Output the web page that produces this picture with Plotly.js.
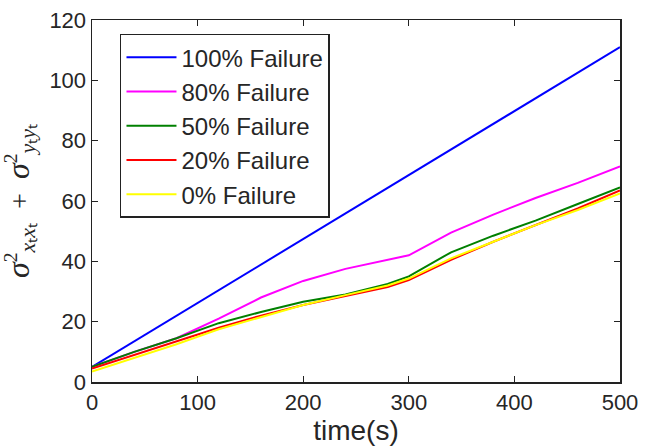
<!DOCTYPE html>
<html>
<head>
<meta charset="utf-8">
<script src="https://cdn.plot.ly/plotly-3.0.1.min.js"></script>
<style>html,body{margin:0;padding:0;background:#fff;}#chart{width:651px;height:447px;}</style>
</head>
<body>
<div id="chart"></div>
<script>
const time = [0, 40, 80, 120, 160, 200, 240, 280, 300, 340, 380, 420, 460, 500];
const fail100 = [5, 13.5, 22, 30.4, 38.9, 47.4, 55.9, 64.4, 68.6, 77.1, 85.6, 94.0, 102.5, 111];
const fail80 = [5, 10, 14.5, 21, 28, 33.5, 37.5, 40.5, 42, 49.5, 55.5, 61, 66, 71.5];
const fail50 = [5, 10, 14.5, 19.5, 23.2, 26.6, 29, 32.5, 35, 43, 48.5, 53.5, 59, 64.5];
const fail20 = [4.5, 9, 13.5, 18, 22, 25.5, 28.5, 31.5, 33.8, 40.5, 46.5, 52, 57.5, 63.5];
const fail0 = [3.5, 8, 12.5, 17.5, 21.5, 25.5, 28.8, 32, 34.3, 41, 46.5, 52, 57, 62.5];
const names = ['100% Failure', '80% Failure', '50% Failure', '20% Failure', '0% Failure'];
const colors = ['#0000ff', '#ff00ff', '#008000', '#ff0000', '#ffff00'];
const series = [fail100, fail80, fail50, fail20, fail0];

const traces = series.map((s, i) => ({
  x: time, y: s, type: 'scatter', mode: 'lines', name: names[i],
  line: {color: colors[i], width: 2}
}));

const sans = 'Liberation Sans, Arial, sans-serif';
const axisCommon = {
  showgrid: false, zeroline: false, showline: true, mirror: 'ticks',
  linecolor: '#222', linewidth: 1.5, ticks: 'inside', ticklen: 6, tickcolor: '#222',
  tickfont: {family: sans, size: 22, color: '#262626'}
};

const sig = '<span style="font-size:32px"><i>σ</i></span>';
const subx = '<sub><span style="font-size:22px"><i>x</i>ₜ<i>x</i>ₜ</span></sub>';
const suby = '<sub><span style="font-size:22px"><i>y</i>ₜ<i>y</i>ₜ</span></sub>';
const layout = {
  width: 651, height: 447,
  margin: {l: 92, r: 31, t: 20, b: 65},
  paper_bgcolor: '#fff', plot_bgcolor: '#fff',
  showlegend: true,
  legend: {
    x: 0.053, y: 0.962, xanchor: 'left', yanchor: 'top',
    bgcolor: '#fff', bordercolor: '#222', borderwidth: 1.5,
    font: {family: sans, size: 24, color: '#262626'},
    tracegroupgap: 0, itemwidth: 50
  },
  xaxis: Object.assign({}, axisCommon, {
    range: [0, 500], tickvals: [0, 100, 200, 300, 400, 500],
    title: {text: 'time(s)', font: {family: sans, size: 28, color: '#262626'}, standoff: 0}
  }),
  yaxis: Object.assign({}, axisCommon, {
    range: [0, 120], tickvals: [0, 20, 40, 60, 80, 100, 120],
    title: {text: sig + '<sup>2</sup>' + subx + '\u00a0\u00a0+\u00a0\u00a0' + sig + '<sup>2</sup>' + suby,
      font: {family: 'Liberation Serif, serif', size: 28, color: '#262626'}, standoff: 14}
  })
};

Plotly.newPlot('chart', traces, layout, {displayModeBar: false, staticPlot: true});
</script>
</body>
</html>
